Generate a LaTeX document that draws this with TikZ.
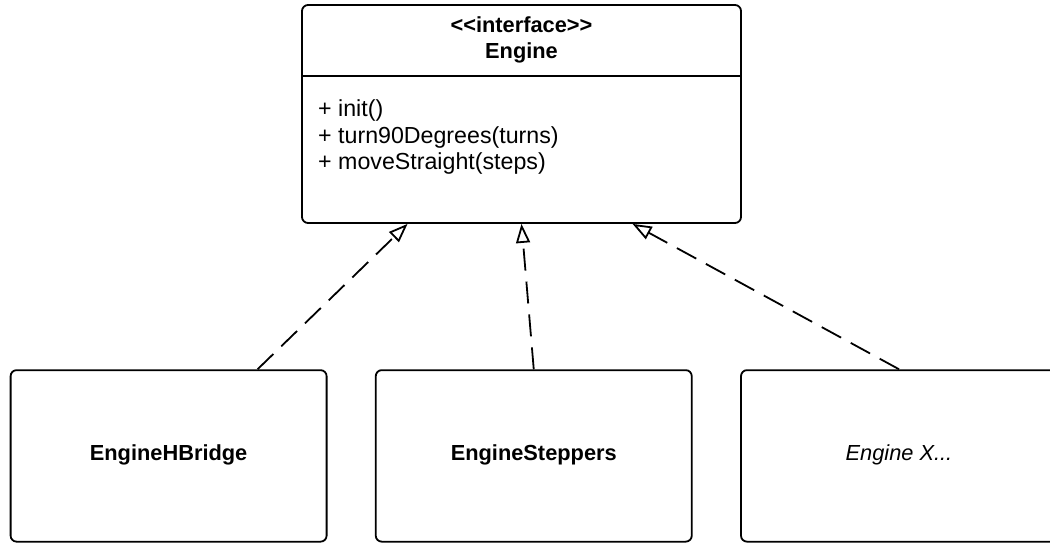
\documentclass[tikz,border=0pt]{standalone}
\usepackage{fontspec}
\setmainfont{Liberation Sans}
\usetikzlibrary{arrows.meta,calc}
\begin{document}
\begin{tikzpicture}[x=1pt,y=-1pt,
  box/.style={draw, line width=1.8pt, rounded corners=6pt, inner sep=0pt},
  txt/.style={font=\fontsize{23.2}{26.5}\selectfont, inner sep=0pt},
  btxt/.style={font=\fontsize{21.8}{26.5}\selectfont\bfseries, inner sep=0pt},
  itxt/.style={font=\fontsize{21.8}{26.5}\selectfont\itshape, inner sep=0pt},
  realize/.style={draw, line width=1.8pt, dash pattern=on 22pt off 11pt,
    -{Triangle[open, length=19pt, width=14pt]}}]
\useasboundingbox (0,0) rectangle (1050,543);
\clip (0,0) rectangle (1050,543);

% interface box
\node[box, minimum width=439pt, minimum height=218pt] (engine) at (521.5,114) {};
\draw[line width=1.8pt] ($(engine.north west)+(0,72)$) -- ($(engine.north east)+(0,72)$);
\node[btxt, anchor=base] (stereo) at (521.5,33) {<\kern0pt<interface>\kern0pt>};
\node[btxt, anchor=base] (name) at (521.5,59) {Engine};
\node[txt, anchor=base west] (m1) at (318,116.5) {+ init()};
\node[txt, anchor=base west] (m2) at (318,143) {+ turn90Degrees(turns)};
\node[txt, anchor=base west] (m3) at (318,169.5) {+ moveStraight(steps)};

% implementations
\node[box, minimum width=316pt, minimum height=171.5pt] (hb) at (168.6,455.9) {};
\node[box, minimum width=316pt, minimum height=171.5pt] (st) at (533.75,455.9) {};
\node[box, minimum width=316pt, minimum height=171.5pt] (ex) at (899,455.9) {};
\node[btxt, anchor=base] (hbl) at ($(hb.center)+(0,4.1)$) {EngineHBridge};
\node[btxt, anchor=base] (stl) at ($(st.center)+(0,4.1)$) {EngineSteppers};
\node[itxt, anchor=base] (exl) at ($(ex.center)+(0,4.1)$) {Engine X...};

% realizations
\draw[realize] ($(hb.north west)!0.78!(hb.north east)$) -- ($(engine.south west)!0.2415!(engine.south east)$);
\draw[realize] (st.north) -- (engine.south);
\draw[realize] (ex.north) -- ($(engine.south west)!0.752!(engine.south east)$);
\end{tikzpicture}
\end{document}
